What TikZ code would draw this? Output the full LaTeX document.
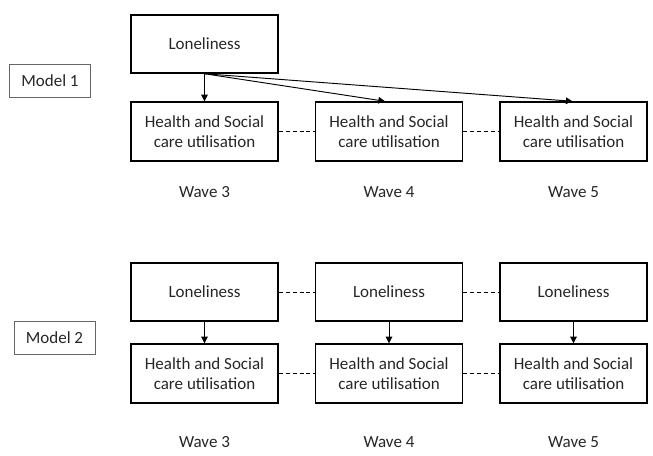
\documentclass[tikz,border=0pt]{standalone}
\usepackage{fontspec}
\setmainfont{Carlito}
\usetikzlibrary{arrows.meta,calc}
\begin{document}
\begin{tikzpicture}[x=0.75pt,y=-0.75pt,
  font=\fontsize{12.75}{14.5}\selectfont,
  box/.style={draw=black,line width=1.1pt,minimum width=147*0.75pt,minimum height=58*0.75pt,inner sep=0pt,align=center,text=black!85},
  modelbox/.style={draw=black!60,line width=0.7pt,minimum width=81*0.75pt,minimum height=33*0.75pt,inner sep=0pt,text=black!85},
  wavelabel/.style={inner sep=0pt,text=black!85},
  arr/.style={line width=0.7pt,-{Triangle[length=5pt,width=5pt]}},
  dashline/.style={line width=0.6pt,dash pattern=on 3pt off 2.2pt}]
\useasboundingbox (0,0) rectangle (653,455);
% Model 1
\node[modelbox] (m1) at (50,81) {Model 1};
\node[box] (l1) at (204.5,44) {Loneliness};
\node[box,minimum height=59*0.75pt] (h11) at (204.5,131.5) {Health and Social\\care utilisation};
\node[box,minimum height=59*0.75pt] (h12) at (389,131.5) {Health and Social\\care utilisation};
\node[box,minimum height=59*0.75pt] (h13) at (573.5,131.5) {Health and Social\\care utilisation};
\draw[arr] (l1.south) -- (h11.north);
\draw[arr] (l1.south) -- ($(h12.north)+(-4,0)$);
\draw[arr] (l1.south) -- ($(h13.north)+(-1,0)$);
\draw[dashline] (h11.east) -- (h12.west);
\draw[dashline] (h12.east) -- (h13.west);
\node[wavelabel] (w11) at (204.5,192) {Wave 3};
\node[wavelabel] (w12) at (389,192) {Wave 4};
\node[wavelabel] (w13) at (573.5,192) {Wave 5};
% Model 2
\node[modelbox] (m2) at (54.5,337.5) {Model 2};
\node[box] (l21) at (204.5,292) {Loneliness};
\node[box] (l22) at (389,292) {Loneliness};
\node[box] (l23) at (573.5,292) {Loneliness};
\node[box,minimum height=59*0.75pt] (h21) at (204.5,373.5) {Health and Social\\care utilisation};
\node[box,minimum height=59*0.75pt] (h22) at (389,373.5) {Health and Social\\care utilisation};
\node[box,minimum height=59*0.75pt] (h23) at (573.5,373.5) {Health and Social\\care utilisation};
\draw[arr] (l21.south) -- (h21.north);
\draw[arr] (l22.south) -- (h22.north);
\draw[arr] (l23.south) -- (h23.north);
\draw[dashline] (l21.east) -- (l22.west);
\draw[dashline] (l22.east) -- (l23.west);
\draw[dashline] (h21.east) -- (h22.west);
\draw[dashline] (h22.east) -- (h23.west);
\node[wavelabel] (w21) at (204.5,442) {Wave 3};
\node[wavelabel] (w22) at (389,442) {Wave 4};
\node[wavelabel] (w23) at (573.5,442) {Wave 5};
\end{tikzpicture}
\end{document}
